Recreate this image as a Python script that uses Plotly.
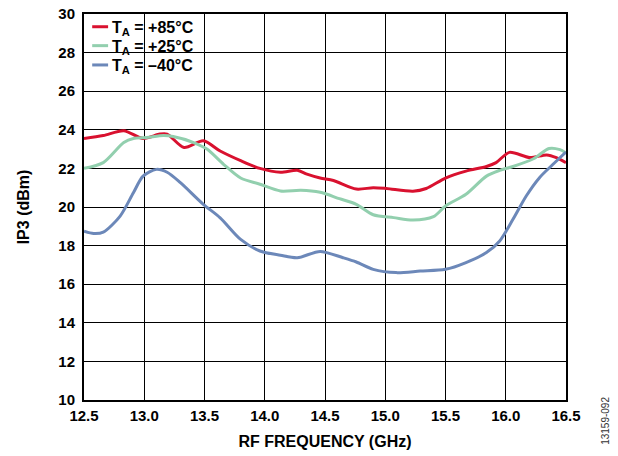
import plotly.graph_objects as go

# RF frequency (GHz) and IP3 (dBm) per ambient temperature
freq_85 = [12.50, 12.66, 12.83, 12.99, 13.13, 13.19, 13.33, 13.49, 13.63, 13.80, 13.96,
           14.13, 14.27, 14.35, 14.46, 14.57, 14.76, 14.90, 15.01, 15.23, 15.34, 15.50,
           15.67, 15.84, 15.92, 16.03, 16.20, 16.34, 16.42, 16.50]
ip3_85 = [23.55, 23.70, 23.95, 23.55, 23.78, 23.78, 23.08, 23.43, 22.90, 22.40, 22.00,
          21.80, 21.90, 21.70, 21.50, 21.37, 20.93, 21.00, 20.96, 20.82, 20.96, 21.50,
          21.86, 22.10, 22.30, 22.83, 22.56, 22.70, 22.56, 22.30]

freq_25 = [12.50, 12.66, 12.83, 12.91, 13.02, 13.16, 13.24, 13.41, 13.52, 13.66, 13.80,
           13.96, 14.13, 14.30, 14.46, 14.62, 14.76, 14.90, 15.07, 15.23, 15.40, 15.50,
           15.67, 15.84, 15.95, 16.06, 16.23, 16.36, 16.45, 16.50]
ip3_25 = [22.00, 22.30, 23.34, 23.55, 23.60, 23.70, 23.65, 23.34, 23.00, 22.20, 21.50,
          21.18, 20.83, 20.87, 20.76, 20.43, 20.14, 19.60, 19.45, 19.32, 19.50, 20.05,
          20.66, 21.60, 21.90, 22.10, 22.50, 23.03, 22.97, 22.80]

freq_m40 = [12.50, 12.58, 12.66, 12.80, 12.91, 12.99, 13.10, 13.19, 13.30, 13.49, 13.63,
            13.80, 13.96, 14.13, 14.27, 14.46, 14.65, 14.76, 14.90, 15.09, 15.29, 15.50,
            15.67, 15.84, 15.95, 16.06, 16.17, 16.28, 16.39, 16.50]
ip3_m40 = [18.75, 18.63, 18.70, 19.53, 20.74, 21.60, 21.95, 21.80, 21.26, 20.14, 19.44,
           18.32, 17.72, 17.50, 17.37, 17.70, 17.37, 17.15, 16.77, 16.60, 16.68, 16.77,
           17.12, 17.64, 18.24, 19.36, 20.57, 21.52, 22.20, 22.85]

x_ticks = [12.5, 13.0, 13.5, 14.0, 14.5, 15.0, 15.5, 16.0, 16.5]
y_ticks = list(range(10, 31, 2))

series = [
    ("T<sub>A</sub> = +85°C", freq_85, ip3_85, "#d9112f"),
    ("T<sub>A</sub> = +25°C", freq_25, ip3_25, "#92cfae"),
    ("T<sub>A</sub> = –40°C", freq_m40, ip3_m40, "#6c88b9"),
]

font_family = "Liberation Sans, Arial, sans-serif"

fig = go.Figure()
for name, xs, ys, color in series:
    fig.add_trace(go.Scatter(
        x=xs, y=ys, name=name, mode="lines", showlegend=False,
        line=dict(color=color, width=3, shape="spline", smoothing=0.8),
    ))

# Key in the upper-left corner: white panel, short swatches and labels
fig.add_shape(type="rect", xref="paper", yref="paper",
              x0=0, x1=0.247, y0=0.84, y1=1,
              fillcolor="white", line=dict(width=0), layer="between")
row_y = [0.967, 0.918, 0.868]
for (name, _, _, color), yy in zip(series, row_y):
    fig.add_shape(type="line", xref="paper", yref="paper",
                  x0=0.017, x1=0.050, y0=yy, y1=yy,
                  line=dict(color=color, width=3), layer="above")
    fig.add_annotation(text=name, xref="paper", yref="paper",
                       x=0.054, y=yy - 0.004, xanchor="left", yanchor="middle",
                       showarrow=False,
                       font=dict(family=font_family, size=16, color="black", weight="bold"))

fig.update_layout(
    width=618, height=456,
    margin=dict(l=84, r=52, t=14, b=56),
    paper_bgcolor="white", plot_bgcolor="white",
    font=dict(family=font_family, size=15, color="black"),
    showlegend=False,
    xaxis=dict(
        range=[12.5, 16.5], tickvals=x_ticks,
        ticktext=[f"{v:.1f}" for v in x_ticks],
        showgrid=True, gridcolor="black", gridwidth=1.3,
        showline=True, linecolor="black", linewidth=2, mirror=True,
        ticks="", zeroline=False, ticklabelstandoff=1, automargin=False,
        tickfont=dict(size=15, weight="bold"),
        title=dict(text="RF FREQUENCY (GHz)", font=dict(size=16, weight="bold"), standoff=13),
    ),
    yaxis=dict(
        range=[10, 30], tickvals=y_ticks,
        showgrid=True, gridcolor="black", gridwidth=1.3,
        showline=True, linecolor="black", linewidth=2, mirror=True,
        ticks="", zeroline=False, ticklabelstandoff=4, automargin=False,
        tickfont=dict(size=15, weight="bold"),
        title=dict(text="IP3 (dBm)", font=dict(size=16, weight="bold"), standoff=25),
    ),
)

fig.add_annotation(
    text="13159-092", xref="paper", yref="paper",
    x=1.083, y=-0.054, xanchor="center", yanchor="middle",
    textangle=-90, showarrow=False,
    font=dict(family=font_family, size=10, color="#333333"),
)

fig.write_html("out.html")
